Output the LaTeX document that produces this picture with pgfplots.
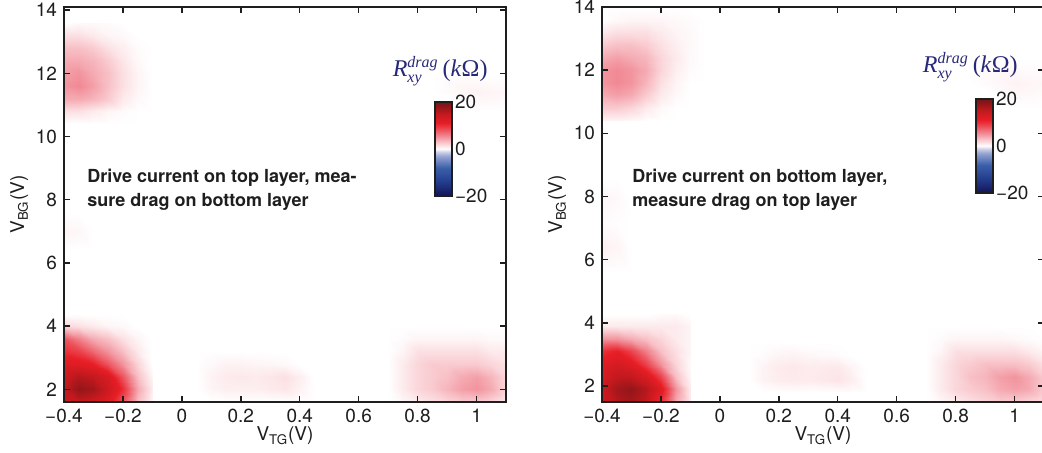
\documentclass[border=0pt]{standalone}
\usepackage{pgfplots}
\pgfplotsset{compat=1.18}
\usepackage{fontspec}
\setmainfont{TeX Gyre Heros}
\newfontfamily\timesfont{Liberation Serif}
\usetikzlibrary{calc}
\definecolor{lblblue}{RGB}{40,40,120}
\definecolor{fr}{RGB}{30,30,30}

\pgfplotsset{
  colormap={drag}{rgb255(0pt)=(20,20,85) rgb255(24pt)=(35,60,140) rgb255(48pt)=(60,95,170) rgb255(68pt)=(150,165,210) rgb255(76pt)=(215,215,235) rgb255(80pt)=(255,255,255) rgb255(90pt)=(249,203,208) rgb255(100pt)=(242,148,158) rgb255(112pt)=(237,85,95) rgb255(124pt)=(232,30,38) rgb255(140pt)=(195,25,30) rgb255(160pt)=(115,20,22)},
  panel/.style={
    scale only axis, width=221pt, height=197.5pt, anchor=south west,
    xmin=-0.4, xmax=1.1,
    axis on top,
    axis line style={line width=1.1pt, fr},
    every tick/.style={fr, line width=0.7pt},
    major tick length=2.8pt,
    tick align=inside,
    xtick={-0.4,-0.2,0,0.2,0.4,0.6,0.8,1},
    xticklabels={−0.4,−0.2,0,0.2,0.4,0.6,0.8,1},
    ytick={2,4,6,8,10,12,14},
    yticklabels={2,4,6,8,10,12,14},
    tick label style={font=\fontsize{9.5}{10}\selectfont, text=fr},
    xlabel={V\textsubscript{TG}(V)},
    ylabel={V\textsubscript{BG}(V)},
    label style={font=\fontsize{9.5}{10}\selectfont, text=fr},
    xlabel style={yshift=5pt},
    ylabel style={yshift=-3pt},
    colormap name=drag, point meta min=-20, point meta max=20,
    colorbar,
    colorbar style={
      anchor=south west, scale only axis, width=8.5pt, height=47pt,
      ytick={-20,0,20}, yticklabels={−20,0,20},
      major tick length=0pt,
      axis line style={line width=1.2pt, fr},
      yticklabel style={font=\fontsize{9.5}{10}\selectfont, text=fr, xshift=-2pt},
    },
  },
  blob/.style={surf, shader=interp, point meta=explicit, forget plot},
}

\newcommand{\rlabel}{{\color{lblblue}\timesfont\fontsize{12}{12}\selectfont $\hbox{\itshape R}^{\hbox{\timesfont\itshape\fontsize{8}{8}\selectfont drag}}_{\hbox{\timesfont\itshape\fontsize{8}{8}\selectfont xy}}$\,(\textit{k}Ω)}}

\begin{document}
\begin{tikzpicture}
% ================= LEFT PANEL =================
\begin{axis}[panel, at={(32pt,25.5pt)}, ymin=1.6, ymax=14.1,
  colorbar style={at={($(parent axis.south west)+(177pt,103pt)$)}}]
% bottom-left strong blob
\addplot[blob, mesh/cols=7] coordinates {
(-0.4,1.6)[14] (-0.35,1.6)[15] (-0.3,1.6)[14] (-0.25,1.6)[12] (-0.2,1.6)[8] (-0.15,1.6)[3] (-0.1,1.6)[0.5]
(-0.4,2.0)[15] (-0.35,2.0)[18] (-0.3,2.0)[17] (-0.25,2.0)[14] (-0.2,2.0)[10] (-0.15,2.0)[4] (-0.1,2.0)[1]
(-0.4,2.4)[14] (-0.35,2.4)[16] (-0.3,2.4)[15] (-0.25,2.4)[13] (-0.2,2.4)[8] (-0.15,2.4)[3] (-0.1,2.4)[0.5]
(-0.4,2.8)[12] (-0.35,2.8)[12] (-0.3,2.8)[11] (-0.25,2.8)[8] (-0.2,2.8)[5] (-0.15,2.8)[2] (-0.1,2.8)[0]
(-0.4,3.2)[10] (-0.35,3.2)[9] (-0.3,3.2)[7] (-0.25,3.2)[5] (-0.2,3.2)[3] (-0.15,3.2)[1] (-0.1,3.2)[0]
(-0.4,3.6)[8] (-0.35,3.6)[6] (-0.3,3.6)[4] (-0.25,3.6)[3] (-0.2,3.6)[1.5] (-0.15,3.6)[0.5] (-0.1,3.6)[0]
(-0.4,4.0)[2] (-0.35,4.0)[1.5] (-0.3,4.0)[1] (-0.25,4.0)[0.5] (-0.2,4.0)[0.3] (-0.15,4.0)[0] (-0.1,4.0)[0]
(-0.4,4.4)[0] (-0.35,4.4)[0] (-0.3,4.4)[0] (-0.25,4.4)[0] (-0.2,4.4)[0] (-0.15,4.4)[0] (-0.1,4.4)[0]
};
% top-left blob
\addplot[blob, mesh/cols=7] coordinates {
(-0.4,10.4)[0] (-0.35,10.4)[0] (-0.3,10.4)[0] (-0.25,10.4)[0] (-0.2,10.4)[0] (-0.15,10.4)[0] (-0.1,10.4)[0]
(-0.4,10.8)[1.5] (-0.35,10.8)[1.5] (-0.3,10.8)[1] (-0.25,10.8)[0.5] (-0.2,10.8)[0.2] (-0.15,10.8)[0] (-0.1,10.8)[0]
(-0.4,11.2)[4] (-0.35,11.2)[4] (-0.3,11.2)[3.5] (-0.25,11.2)[2.5] (-0.2,11.2)[1] (-0.15,11.2)[0.3] (-0.1,11.2)[0]
(-0.4,11.6)[5] (-0.35,11.6)[5.5] (-0.3,11.6)[4.5] (-0.25,11.6)[3] (-0.2,11.6)[1.5] (-0.15,11.6)[0.5] (-0.1,11.6)[0]
(-0.4,12.0)[4.5] (-0.35,12.0)[5] (-0.3,12.0)[4] (-0.25,12.0)[3] (-0.2,12.0)[1.5] (-0.15,12.0)[0.5] (-0.1,12.0)[0]
(-0.4,12.4)[4] (-0.35,12.4)[4] (-0.3,12.4)[3.5] (-0.25,12.4)[2.5] (-0.2,12.4)[1.2] (-0.15,12.4)[0.3] (-0.1,12.4)[0]
(-0.4,12.8)[3] (-0.35,12.8)[3] (-0.3,12.8)[2.5] (-0.25,12.8)[1.5] (-0.2,12.8)[0.8] (-0.15,12.8)[0.2] (-0.1,12.8)[0]
(-0.4,13.2)[1.5] (-0.35,13.2)[1.5] (-0.3,13.2)[1] (-0.25,13.2)[0.5] (-0.2,13.2)[0.3] (-0.15,13.2)[0] (-0.1,13.2)[0]
(-0.4,13.6)[0] (-0.35,13.6)[0.3] (-0.3,13.6)[0.3] (-0.25,13.6)[0.2] (-0.2,13.6)[0] (-0.15,13.6)[0] (-0.1,13.6)[0]
};
% bottom-middle faint blob
\addplot[blob, mesh/cols=9] coordinates {
(0.05,1.6)[0] (0.1,1.6)[0] (0.15,1.6)[0] (0.2,1.6)[0] (0.25,1.6)[0] (0.3,1.6)[0] (0.35,1.6)[0] (0.4,1.6)[0] (0.45,1.6)[0]
(0.05,2.0)[0] (0.1,2.0)[0.5] (0.15,2.0)[0.8] (0.2,2.0)[0.8] (0.25,2.0)[0.8] (0.3,2.0)[1] (0.35,2.0)[1.2] (0.4,2.0)[0.6] (0.45,2.0)[0]
(0.05,2.4)[0] (0.1,2.4)[0.6] (0.15,2.4)[1] (0.2,2.4)[1.1] (0.25,2.4)[1] (0.3,2.4)[1.2] (0.35,2.4)[1.5] (0.4,2.4)[0.8] (0.45,2.4)[0]
(0.05,2.8)[0] (0.1,2.8)[0.3] (0.15,2.8)[0.6] (0.2,2.8)[0.6] (0.25,2.8)[0.5] (0.3,2.8)[0.4] (0.35,2.8)[0.3] (0.4,2.8)[0] (0.45,2.8)[0]
(0.05,3.2)[0] (0.1,3.2)[0] (0.15,3.2)[0] (0.2,3.2)[0] (0.25,3.2)[0] (0.3,3.2)[0] (0.35,3.2)[0] (0.4,3.2)[0] (0.45,3.2)[0]
};
% bottom-right blob
\addplot[blob, mesh/cols=9] coordinates {
(0.7,1.6)[0] (0.75,1.6)[0.5] (0.8,1.6)[1] (0.85,1.6)[1.5] (0.9,1.6)[2] (0.95,1.6)[2.5] (1.0,1.6)[2.5] (1.05,1.6)[2] (1.1,1.6)[1]
(0.7,2.0)[0] (0.75,2.0)[1] (0.8,2.0)[2] (0.85,2.0)[2.5] (0.9,2.0)[3.5] (0.95,2.0)[4.5] (1.0,2.0)[5] (1.05,2.0)[4] (1.1,2.0)[2]
(0.7,2.4)[0] (0.75,2.4)[1] (0.8,2.4)[2] (0.85,2.4)[2.5] (0.9,2.4)[3] (0.95,2.4)[4] (1.0,2.4)[4.5] (1.05,2.4)[3.5] (1.1,2.4)[2]
(0.7,2.8)[0] (0.75,2.8)[1] (0.8,2.8)[2] (0.85,2.8)[2.5] (0.9,2.8)[2.5] (0.95,2.8)[2.5] (1.0,2.8)[2.5] (1.05,2.8)[2] (1.1,2.8)[1.5]
(0.7,3.2)[0] (0.75,3.2)[0.5] (0.8,3.2)[1.5] (0.85,3.2)[1.5] (0.9,3.2)[1.5] (0.95,3.2)[1.5] (1.0,3.2)[1.5] (1.05,3.2)[1] (1.1,3.2)[1]
(0.7,3.6)[0] (0.75,3.6)[0.2] (0.8,3.6)[0.5] (0.85,3.6)[0.5] (0.9,3.6)[0.5] (0.95,3.6)[0.5] (1.0,3.6)[0.5] (1.05,3.6)[0.3] (1.1,3.6)[0.3]
(0.7,4.0)[0] (0.75,4.0)[0] (0.8,4.0)[0] (0.85,4.0)[0] (0.9,4.0)[0] (0.95,4.0)[0] (1.0,4.0)[0] (1.05,4.0)[0] (1.1,4.0)[0]
};
% faint spots
\addplot[blob, mesh/cols=3] coordinates {
(0.85,10.8)[0] (1.0,10.8)[0] (1.1,10.8)[0]
(0.85,11.4)[0] (1.0,11.4)[0.6] (1.1,11.4)[0.4]
(0.85,12.0)[0] (1.0,12.0)[0] (1.1,12.0)[0]
};
\addplot[blob, mesh/cols=3] coordinates {
(-0.4,6.4)[0] (-0.35,6.4)[0] (-0.3,6.4)[0]
(-0.4,7.0)[0.5] (-0.35,7.0)[0.4] (-0.3,7.0)[0]
(-0.4,7.6)[0] (-0.35,7.6)[0] (-0.3,7.6)[0]
};
\node[anchor=north west, inner sep=0pt, align=left, font=\bfseries\fontsize{9}{12}\selectfont, text=fr]
  at (rel axis cs:0.052,0.59) {Drive current on top layer, mea-\\sure drag on bottom layer};
\node[anchor=base west, inner sep=0pt] at (rel axis cs:0.743,0.823) {\rlabel};
\end{axis}

% ================= RIGHT PANEL =================
\begin{axis}[panel, at={(301pt,25.5pt)}, ymin=1.5, ymax=14,
  colorbar style={at={($(parent axis.south west)+(178.5pt,104.5pt)$)}}]
\addplot[blob, mesh/cols=7] coordinates {
(-0.4,1.5)[14] (-0.35,1.5)[16] (-0.3,1.5)[17] (-0.25,1.5)[15] (-0.2,1.5)[10] (-0.15,1.5)[4] (-0.1,1.5)[1]
(-0.4,1.9)[14] (-0.35,1.9)[17] (-0.3,1.9)[18] (-0.25,1.9)[16] (-0.2,1.9)[12] (-0.15,1.9)[5] (-0.1,1.9)[1]
(-0.4,2.3)[13] (-0.35,2.3)[15] (-0.3,2.3)[15] (-0.25,2.3)[13] (-0.2,2.3)[9] (-0.15,2.3)[3] (-0.1,2.3)[0.5]
(-0.4,2.7)[12] (-0.35,2.7)[13] (-0.3,2.7)[12] (-0.25,2.7)[9] (-0.2,2.7)[5] (-0.15,2.7)[2] (-0.1,2.7)[0.3]
(-0.4,3.1)[10] (-0.35,3.1)[11] (-0.3,3.1)[9] (-0.25,3.1)[6] (-0.2,3.1)[3] (-0.15,3.1)[1.5] (-0.1,3.1)[0.5]
(-0.4,3.5)[5] (-0.35,3.5)[5] (-0.3,3.5)[4] (-0.25,3.5)[3] (-0.2,3.5)[2] (-0.15,3.5)[1] (-0.1,3.5)[0.5]
(-0.4,3.9)[1] (-0.35,3.9)[1] (-0.3,3.9)[1] (-0.25,3.9)[1] (-0.2,3.9)[1] (-0.15,3.9)[1] (-0.1,3.9)[0.5]
(-0.4,4.3)[0] (-0.35,4.3)[0] (-0.3,4.3)[0] (-0.25,4.3)[0] (-0.2,4.3)[0.2] (-0.15,4.3)[0.3] (-0.1,4.3)[0]
};
\addplot[blob, mesh/cols=8] coordinates {
(-0.4,10.4)[0.5] (-0.35,10.4)[0.5] (-0.3,10.4)[0.3] (-0.25,10.4)[0] (-0.2,10.4)[0] (-0.15,10.4)[0] (-0.1,10.4)[0] (-0.05,10.4)[0]
(-0.4,10.8)[2.5] (-0.35,10.8)[2.5] (-0.3,10.8)[2] (-0.25,10.8)[1] (-0.2,10.8)[0.3] (-0.15,10.8)[0] (-0.1,10.8)[0] (-0.05,10.8)[0]
(-0.4,11.2)[4] (-0.35,11.2)[4.5] (-0.3,11.2)[4] (-0.25,11.2)[2.5] (-0.2,11.2)[1] (-0.15,11.2)[0.3] (-0.1,11.2)[0] (-0.05,11.2)[0]
(-0.4,11.6)[5] (-0.35,11.6)[5.5] (-0.3,11.6)[5] (-0.25,11.6)[3.5] (-0.2,11.6)[1.5] (-0.15,11.6)[0.5] (-0.1,11.6)[0] (-0.05,11.6)[0]
(-0.4,12.0)[5] (-0.35,12.0)[5.5] (-0.3,12.0)[5] (-0.25,12.0)[4] (-0.2,12.0)[2] (-0.15,12.0)[0.8] (-0.1,12.0)[0.2] (-0.05,12.0)[0]
(-0.4,12.4)[4] (-0.35,12.4)[4.5] (-0.3,12.4)[4] (-0.25,12.4)[3.5] (-0.2,12.4)[2] (-0.15,12.4)[1] (-0.1,12.4)[0.3] (-0.05,12.4)[0]
(-0.4,12.8)[2.5] (-0.35,12.8)[3] (-0.3,12.8)[3] (-0.25,12.8)[2.5] (-0.2,12.8)[1.5] (-0.15,12.8)[0.8] (-0.1,12.8)[0.3] (-0.05,12.8)[0]
(-0.4,13.2)[1] (-0.35,13.2)[1.5] (-0.3,13.2)[1.5] (-0.25,13.2)[1.5] (-0.2,13.2)[1] (-0.15,13.2)[0.5] (-0.1,13.2)[0.3] (-0.05,13.2)[0]
(-0.4,13.6)[0] (-0.35,13.6)[0.3] (-0.3,13.6)[0.5] (-0.25,13.6)[0.5] (-0.2,13.6)[0.5] (-0.15,13.6)[0.3] (-0.1,13.6)[0.2] (-0.05,13.6)[0]
(-0.4,14.0)[0] (-0.35,14.0)[0] (-0.3,14.0)[0] (-0.25,14.0)[0] (-0.2,14.0)[0] (-0.15,14.0)[0] (-0.1,14.0)[0] (-0.05,14.0)[0]
};
\addplot[blob, mesh/cols=9] coordinates {
(0.1,1.8)[0] (0.15,1.8)[0] (0.2,1.8)[0] (0.25,1.8)[0] (0.3,1.8)[0] (0.35,1.8)[0] (0.4,1.8)[0] (0.45,1.8)[0] (0.5,1.8)[0]
(0.1,2.2)[0] (0.15,2.2)[0.6] (0.2,2.2)[0.9] (0.25,2.2)[1] (0.3,2.2)[0.9] (0.35,2.2)[1.1] (0.4,2.2)[1.3] (0.45,2.2)[0.8] (0.5,2.2)[0]
(0.1,2.6)[0] (0.15,2.6)[0.6] (0.2,2.6)[1] (0.25,2.6)[1.1] (0.3,2.6)[0.9] (0.35,2.6)[1] (0.4,2.6)[1.1] (0.45,2.6)[0.5] (0.5,2.6)[0]
(0.1,3.0)[0] (0.15,3.0)[0.2] (0.2,3.0)[0.5] (0.25,3.0)[0.6] (0.3,3.0)[0.4] (0.35,3.0)[0.3] (0.4,3.0)[0.2] (0.45,3.0)[0] (0.5,3.0)[0]
(0.1,3.4)[0] (0.15,3.4)[0] (0.2,3.4)[0] (0.25,3.4)[0] (0.3,3.4)[0] (0.35,3.4)[0] (0.4,3.4)[0] (0.45,3.4)[0] (0.5,3.4)[0]
};
\addplot[blob, mesh/cols=9] coordinates {
(0.7,1.5)[0] (0.75,1.5)[0.5] (0.8,1.5)[1] (0.85,1.5)[1.5] (0.9,1.5)[2] (0.95,1.5)[2.5] (1.0,1.5)[2.5] (1.05,1.5)[2] (1.1,1.5)[1.5]
(0.7,1.9)[0] (0.75,1.9)[1] (0.8,1.9)[2] (0.85,1.9)[2.5] (0.9,1.9)[3] (0.95,1.9)[4] (1.0,1.9)[4.5] (1.05,1.9)[4] (1.1,1.9)[2.5]
(0.7,2.3)[0] (0.75,2.3)[1] (0.8,2.3)[2] (0.85,2.3)[3] (0.9,2.3)[3.5] (0.95,2.3)[4.5] (1.0,2.3)[5] (1.05,2.3)[4] (1.1,2.3)[2.5]
(0.7,2.7)[0] (0.75,2.7)[1] (0.8,2.7)[2] (0.85,2.7)[2.5] (0.9,2.7)[3] (0.95,2.7)[3] (1.0,2.7)[3] (1.05,2.7)[2.5] (1.1,2.7)[1.5]
(0.7,3.1)[0] (0.75,3.1)[0.5] (0.8,3.1)[1.5] (0.85,3.1)[1.5] (0.9,3.1)[1.5] (0.95,3.1)[1.5] (1.0,3.1)[1.5] (1.05,3.1)[1] (1.1,3.1)[0.5]
(0.7,3.5)[0] (0.75,3.5)[0.2] (0.8,3.5)[0.5] (0.85,3.5)[0.5] (0.9,3.5)[0.5] (0.95,3.5)[0.5] (1.0,3.5)[0.3] (1.05,3.5)[0.2] (1.1,3.5)[0]
(0.7,3.9)[0] (0.75,3.9)[0] (0.8,3.9)[0] (0.85,3.9)[0] (0.9,3.9)[0] (0.95,3.9)[0] (1.0,3.9)[0] (1.05,3.9)[0] (1.1,3.9)[0]
};
\addplot[blob, mesh/cols=3] coordinates {
(0.85,10.8)[0] (1.0,10.8)[0] (1.1,10.8)[0]
(0.85,11.6)[0] (1.0,11.6)[0.6] (1.1,11.6)[0.4]
(0.85,12.4)[0] (1.0,12.4)[0] (1.1,12.4)[0]
};
\addplot[blob, mesh/cols=3] coordinates {
(-0.4,5.6)[0] (-0.35,5.6)[0] (-0.3,5.6)[0]
(-0.4,6.4)[0.7] (-0.35,6.4)[0.5] (-0.3,6.4)[0]
(-0.4,7.2)[0.2] (-0.35,7.2)[0.1] (-0.3,7.2)[0]
(-0.4,8.0)[0.5] (-0.35,8.0)[0.3] (-0.3,8.0)[0]
(-0.4,8.6)[0] (-0.35,8.6)[0] (-0.3,8.6)[0]
};
\node[anchor=north west, inner sep=0pt, align=left, font=\bfseries\fontsize{9}{12}\selectfont, text=fr]
  at (rel axis cs:0.068,0.59) {Drive current on bottom layer,\\measure drag on top layer};
\node[anchor=base west, inner sep=0pt] at (rel axis cs:0.725,0.833) {\rlabel};
\end{axis}
\pgfresetboundingbox
\useasboundingbox (0,0) rectangle (521pt,226.5pt);
\end{tikzpicture}
\end{document}
